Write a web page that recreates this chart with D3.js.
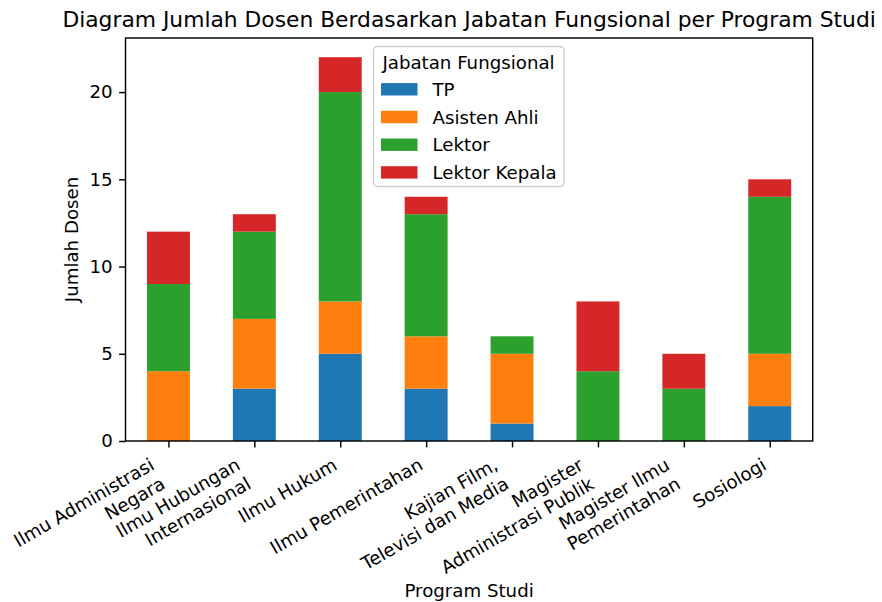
<!DOCTYPE html>
<html><head><meta charset="utf-8">
<script src="https://cdn.jsdelivr.net/npm/d3@7"></script>
<style>body{margin:0;background:#fff}svg{display:block;font-family:"DejaVu Sans",sans-serif}</style>
</head><body>
<svg id="c" width="882" height="602"></svg>
<script>
const categories = ["Ilmu Administrasi\nNegara","Ilmu Hubungan\nInternasional","Ilmu Hukum","Ilmu Pemerintahan","Kajian Film,\nTelevisi dan Media","Magister\nAdministrasi Publik","Magister Ilmu\nPemerintahan","Sosiologi"];
const seriesNames = ["TP","Asisten Ahli","Lektor","Lektor Kepala"];
const tp = [0,3,5,3,1,0,0,2];
const asistenAhli = [4,4,3,3,4,0,0,3];
const lektor = [5,5,12,7,1,4,3,9];
const lektorKepala = [3,1,2,1,0,4,2,1];
const colors = ["#1f77b4","#ff7f0e","#2ca02c","#d62728"];
const yTicks = [0,5,10,15,20];

const svg = d3.select("#c");
const L=125.5, R=812.7, T=38, B=441;
const x = d3.scaleLinear().domain([-0.5, categories.length-0.5]).range([L,R]);
const total = categories.map((c,i)=>tp[i]+asistenAhli[i]+lektor[i]+lektorKepala[i]);
const y = d3.scaleLinear().domain([0, d3.max(total)*1.05]).range([B,T]);

const rows = categories.map((c,i)=>({cat:i, TP:tp[i], "Asisten Ahli":asistenAhli[i], Lektor:lektor[i], "Lektor Kepala":lektorKepala[i]}));
const stacked = d3.stack().keys(seriesNames)(rows);
const bw = x(0.25)-x(-0.25);
stacked.forEach((s,si)=>{
  svg.append("g").selectAll("rect").data(s).join("rect")
    .attr("x", d=>x(d.data.cat)-bw/2).attr("width", bw)
    .attr("y", d=>y(d[1])).attr("height", d=>y(d[0])-y(d[1]))
    .attr("fill", colors[si]);
});

// axes
const fs = 18.2;
const tl = 6.4, lw = 1.45;
const ya = svg.append("g").attr("transform",`translate(${L},0)`)
  .call(d3.axisLeft(y).tickValues(yTicks).tickSize(tl).tickPadding(tl).tickFormat(d3.format("d")));
ya.select(".domain").remove();
ya.selectAll("text").attr("font-size",fs).attr("font-family","DejaVu Sans").attr("fill","#000");
ya.selectAll("line").attr("stroke","#000").attr("stroke-width",lw);

const xa = svg.append("g").attr("transform",`translate(0,${B})`)
  .call(d3.axisBottom(x).tickValues(d3.range(categories.length)).tickSize(tl).tickFormat(""));
xa.select(".domain").remove();
xa.selectAll("line").attr("stroke","#000").attr("stroke-width",lw);

// rotated multi-line tick labels, matplotlib style (rotation 30, ha right, va top)
categories.forEach((c,i)=>{
  const outer = svg.append("g");
  const inner = outer.append("g").attr("transform","rotate(-30)");
  const t = inner.append("text").attr("font-size",fs).attr("text-anchor","end").attr("fill","#000");
  const lines = c.split("\n");
  lines.forEach((ln,k)=>{
    t.append("tspan").attr("x",0).attr("dy", k===0?0:fs*1.2).text(ln);
  });
  const bb = outer.node().getBBox();
  const tx = x(i), ty = B + tl + tl;
  outer.attr("transform",`translate(${tx-(bb.x+bb.width)},${ty-bb.y})`);
});

// spines
svg.append("rect").attr("x",L).attr("y",T).attr("width",R-L).attr("height",B-T)
  .attr("fill","none").attr("stroke","#000").attr("stroke-width",lw);

// labels
svg.append("text").attr("x",(L+R)/2).attr("y",27).attr("text-anchor","middle")
  .attr("font-size",21.8).text("Diagram Jumlah Dosen Berdasarkan Jabatan Fungsional per Program Studi");
svg.append("text").attr("x",(L+R)/2).attr("y",597).attr("text-anchor","middle")
  .attr("font-size",fs).text("Program Studi");
svg.append("text").attr("transform",`translate(78,${(T+B)/2}) rotate(-90)`).attr("text-anchor","middle")
  .attr("font-size",fs).text("Jumlah Dosen");

// legend
const lg = svg.append("g");
lg.append("rect").attr("x",373.5).attr("y",46.5).attr("width",190.5).attr("height",140)
  .attr("rx",4).attr("fill","#fff").attr("fill-opacity",0.8).attr("stroke","#cccccc").attr("stroke-width",1.4);
lg.append("text").attr("x",468.5).attr("y",69).attr("text-anchor","middle").attr("font-size",fs).text("Jabatan Fungsional");
seriesNames.forEach((n,k)=>{
  const cy = 89.3 + k*27.7;
  lg.append("rect").attr("x",381).attr("y",cy-6.2).attr("width",36.5).attr("height",12.4).attr("fill",colors[k]);
  lg.append("text").attr("x",432.5).attr("y",cy+6.5).attr("font-size",fs).text(n);
});
</script>
</body></html>
